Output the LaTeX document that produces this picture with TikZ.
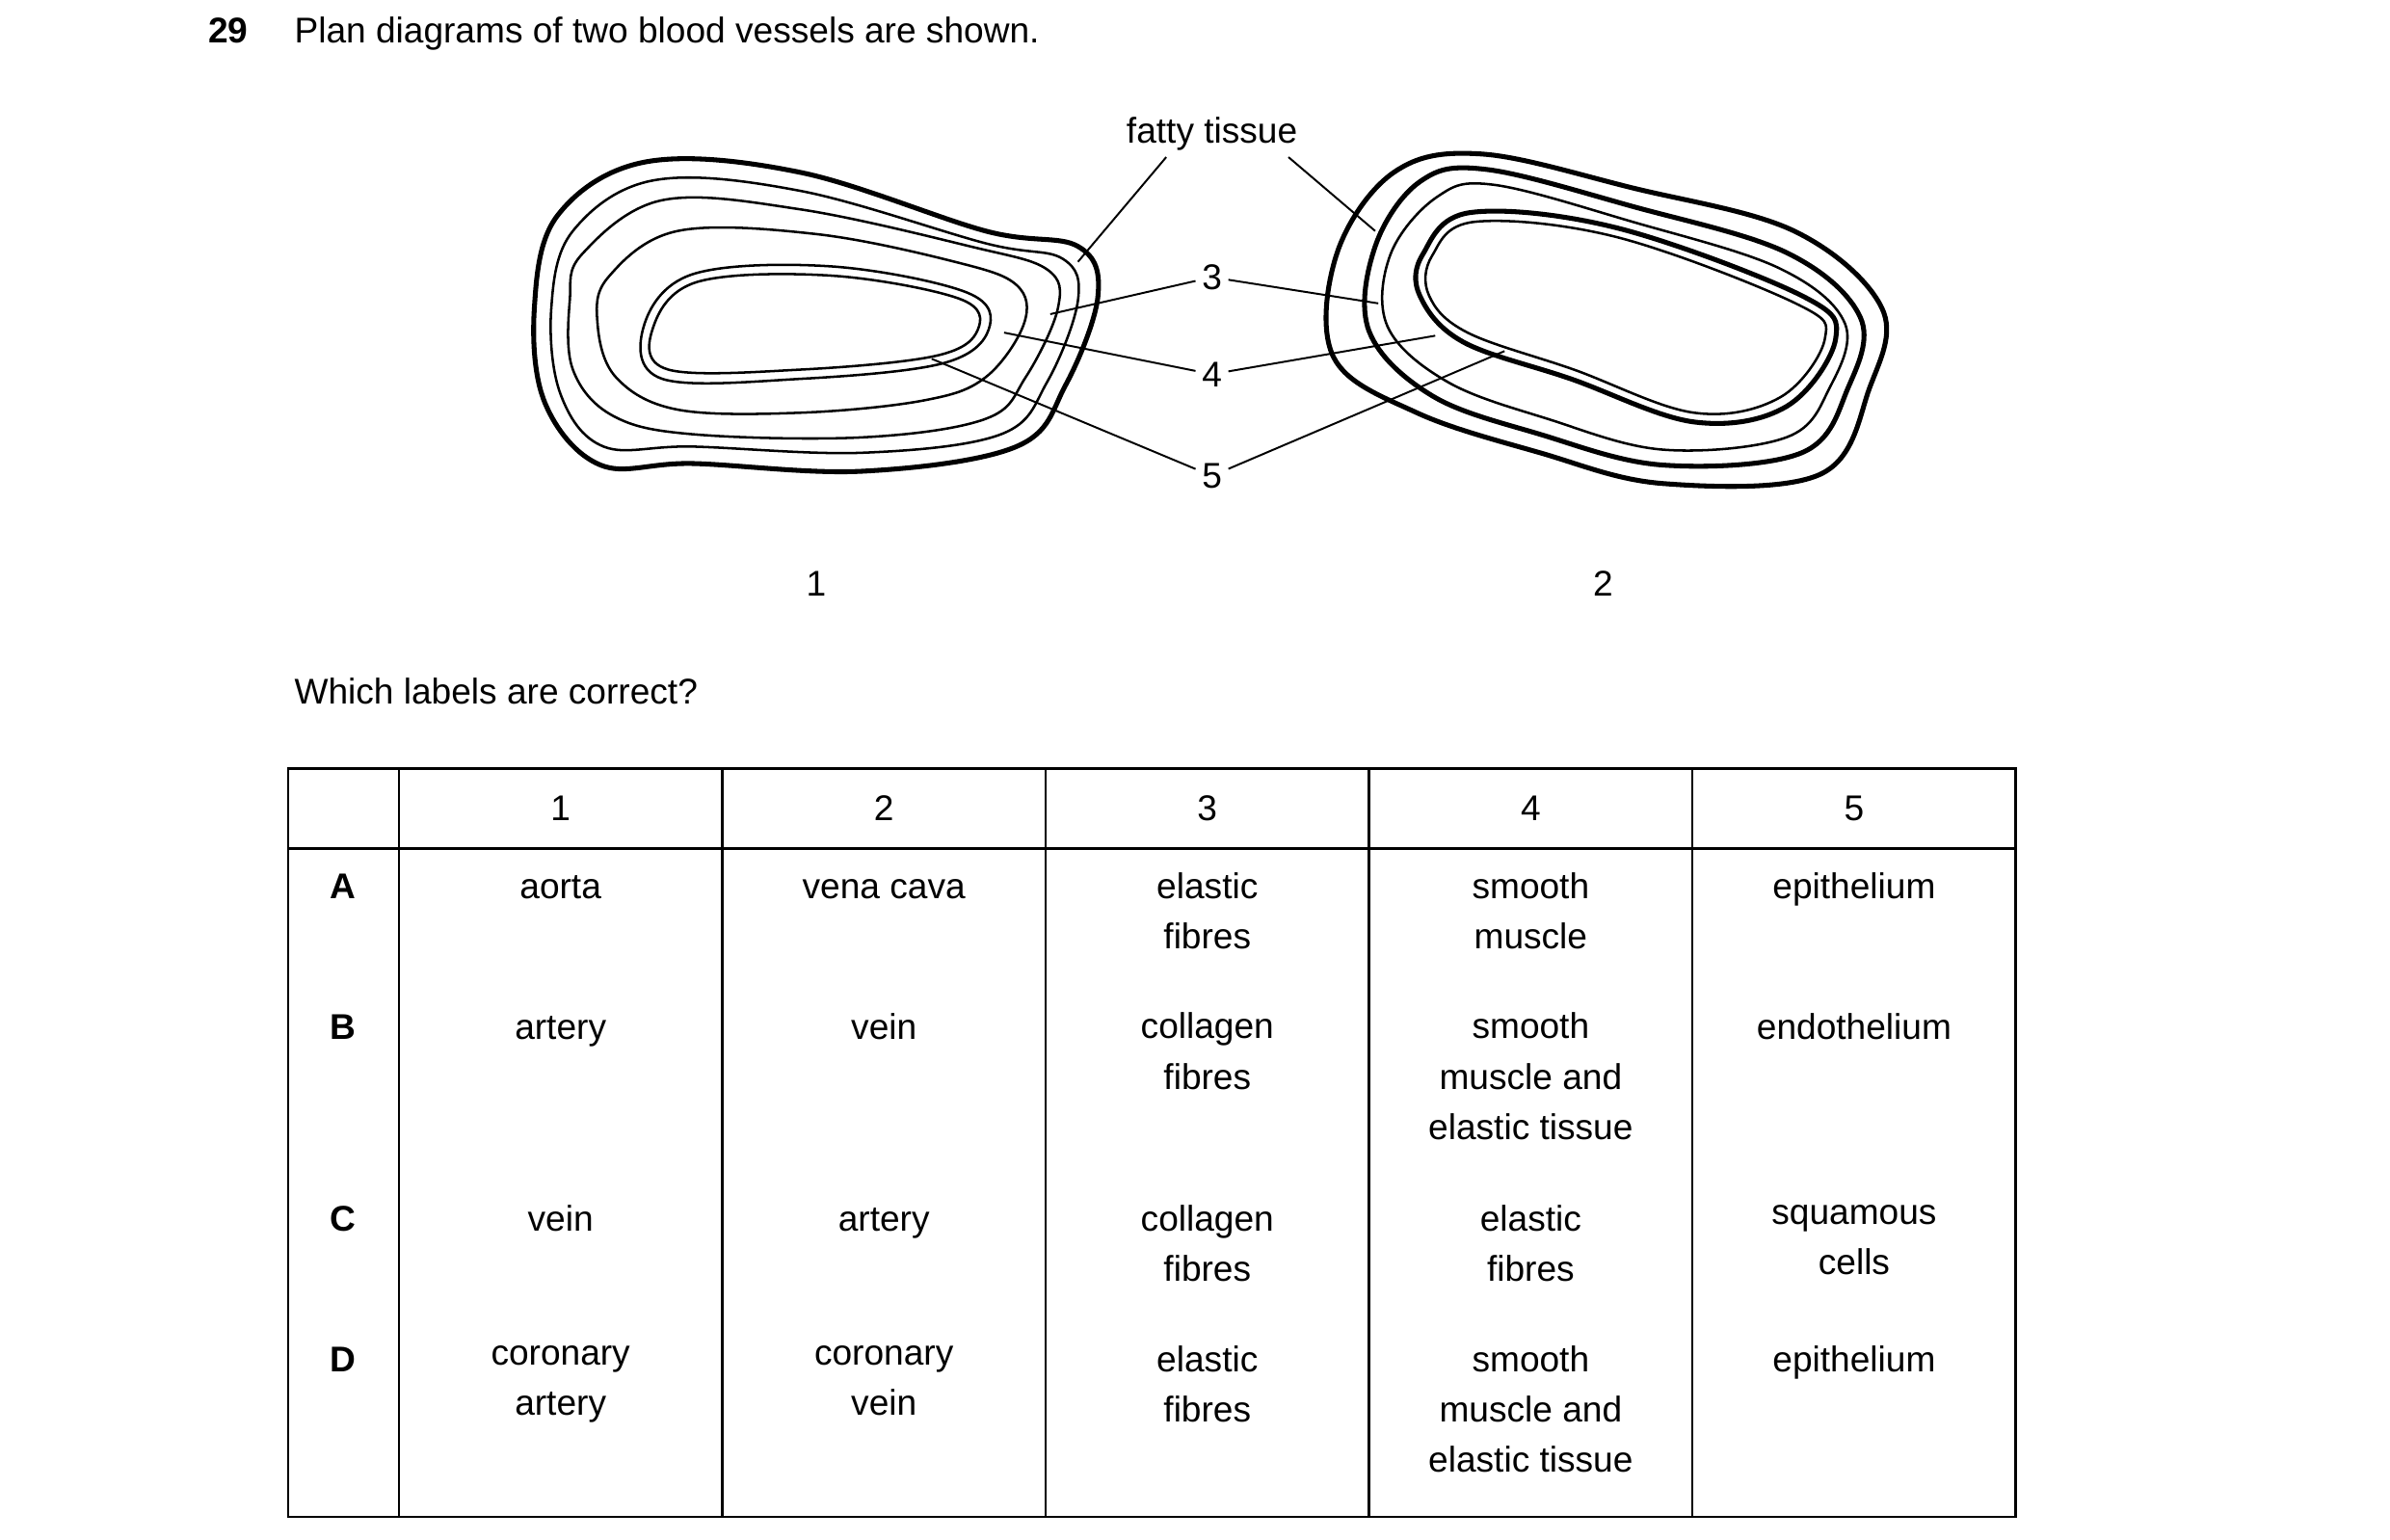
\documentclass[tikz,border=0pt]{standalone}
\usepackage{fontspec}
\setmainfont{Liberation Sans}
\begin{document}
\begin{tikzpicture}[x=0.01cm, y=-0.01cm,
    every node/.style={font=\fontsize{6.6}{9.3}\selectfont, inner sep=1pt},
    cell/.style={anchor=north, align=center, inner sep=0pt, execute at begin node=\strut},
    single/.style={cell, yshift=1.7pt},
    wall/.style={line width=0.45pt},
    thick wall/.style={line width=0.9pt},
    leader/.style={line width=0.35pt}]
    \useasboundingbox (0,0) rectangle (1552,1000);

    % Question text
    \node[anchor=base west, font=\fontsize{6.6}{9.3}\selectfont\bfseries] (qnum) at (131,28) {29};
    \node[anchor=base west] (qtext) at (187,28) {Plan diagrams of two blood vessels are shown.};

    % Vessel 1
    \draw[thick wall] plot[smooth cycle, tension=0.6] coordinates {(362,140) (420,105) (520,112) (640,150) (700,160) (713,192) (692,250) (660,290) (560,306) (450,301) (390,302) (354,262) (347,200)};
    \draw[wall] plot[smooth cycle, tension=0.6] coordinates {(372,150) (425,117) (520,124) (640,158) (690,168) (700,195) (680,248) (650,282) (560,294) (450,290) (392,290) (364,256) (358,200)};
    \draw[wall] plot[smooth cycle, tension=0.6] coordinates {(378,165) (430,130) (520,136) (630,160) (680,175) (687,200) (666,245) (640,272) (560,284) (450,282) (398,270) (372,240) (370,195)};
    \draw[wall] plot[smooth cycle, tension=0.6] coordinates {(395,180) (440,150) (530,152) (620,170) (660,185) (665,210) (640,245) (600,260) (520,268) (440,266) (400,245) (388,210)};
    \draw[wall] plot[smooth cycle, tension=0.6] coordinates {(418,212) (450,178) (540,173) (628,190) (642,214) (612,236) (520,246) (430,246)};
    \draw[wall] plot[smooth cycle, tension=0.6] coordinates {(424,213) (453,183) (540,179) (623,194) (635,214) (608,231) (520,240) (434,240)};

    % Vessel 2
    \draw[thick wall] plot[smooth cycle, tension=0.6] coordinates {(868,165) (905,112) (962,100) (1060,122) (1165,150) (1222,200) (1214,252) (1182,308) (1080,314) (1000,294) (920,268) (866,232)};
    \draw[thick wall] plot[smooth cycle, tension=0.6] coordinates {(893,160) (922,118) (965,110) (1060,134) (1160,164) (1208,206) (1200,252) (1170,294) (1080,302) (1000,282) (930,257) (889,215)};
    \draw[wall] plot[smooth cycle, tension=0.6] coordinates {(903,165) (933,128) (970,120) (1060,144) (1155,174) (1198,210) (1188,252) (1160,284) (1080,292) (1005,272) (940,248) (901,212)};
    \draw[thick wall] plot[smooth cycle, tension=0.6] coordinates {(924,165) (955,138) (1050,148) (1170,192) (1192,220) (1160,264) (1100,274) (1020,246) (950,222) (922,192)};
    \draw[wall] plot[smooth cycle, tension=0.6] coordinates {(930,166) (958,144) (1050,154) (1166,197) (1185,220) (1156,258) (1100,268) (1022,240) (953,216) (928,192)};

    % Labels and leader lines
    \node (fatty) at (787,87) {fatty tissue};
    \node (l3) at (787,180) {3};
    \node (l4) at (787,243) {4};
    \node (l5) at (787,309) {5};
    \coordinate (f1) at (700,170);
    \coordinate (f2) at (893,150);
    \coordinate (a3) at (682,204);
    \coordinate (b3) at (895,197);
    \coordinate (a4) at (652,216);
    \coordinate (b4) at (932,218);
    \coordinate (a5) at (605,233);
    \coordinate (b5) at (977,228);
    \draw[leader] (fatty.south west) ++(30,0) -- (f1);
    \draw[leader] (fatty.south east) ++(-10,0) -- (f2);
    \draw[leader] (l3) -- (a3);
    \draw[leader] (l3) -- (b3);
    \draw[leader] (l4) -- (a4);
    \draw[leader] (l4) -- (b4);
    \draw[leader] (l5) -- (a5);
    \draw[leader] (l5) -- (b5);
    \node (v1) at (530,379) {1};
    \node (v2) at (1041,379) {2};

    \node[anchor=base west] (which) at (187,457) {Which labels are correct?};

    % Table
    \draw[line width=0.45pt] (187,499) rectangle (1309,985);
    \draw[line width=0.45pt] (187,551) -- (1309,551);
    \foreach \x in {259,469,679,889,1099}
        \draw[line width=0.45pt] (\x,499) -- (\x,985);

    \foreach \t [count=\i] in {1,2,3,4,5}
        \node (h\i) at (259+210*\i-105,525) {\t};

    \foreach \r/\y in {A/566,B/657,C/782,D/873}
        \node[single, font=\fontsize{6.6}{9.3}\selectfont\bfseries] (row\r) at (223,\y) {\r};

    \node[single] (a1) at (364,566) {aorta};
    \node[single] (a2) at (574,566) {vena cava};
    \node[cell] (a3t) at (784,566) {elastic\\fibres};
    \node[cell] (a4t) at (994,566) {smooth\\muscle};
    \node[single] (a5t) at (1204,566) {epithelium};

    \node[single] (b1) at (364,657) {artery};
    \node[single] (b2) at (574,657) {vein};
    \node[cell] (b3t) at (784,657) {collagen\\fibres};
    \node[cell] (b4t) at (994,657) {smooth\\muscle and\\elastic tissue};
    \node[single] (b5t) at (1204,657) {endothelium};

    \node[single] (c1) at (364,782) {vein};
    \node[single] (c2) at (574,782) {artery};
    \node[cell] (c3) at (784,782) {collagen\\fibres};
    \node[cell] (c4) at (994,782) {elastic\\fibres};
    \node[cell] (c5) at (1204,782) {squamous\\cells};

    \node[cell] (d1) at (364,873) {coronary\\artery};
    \node[cell] (d2) at (574,873) {coronary\\vein};
    \node[cell] (d3) at (784,873) {elastic\\fibres};
    \node[cell] (d4) at (994,873) {smooth\\muscle and\\elastic tissue};
    \node[single] (d5) at (1204,873) {epithelium};
\end{tikzpicture}
\end{document}
